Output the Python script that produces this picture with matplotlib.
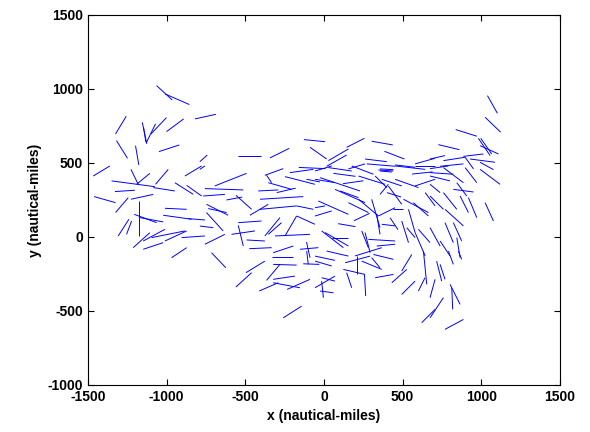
import matplotlib
matplotlib.use("Agg")
import matplotlib.pyplot as plt
from matplotlib.collections import LineCollection

plt.rcParams['font.family'] = ['Liberation Sans', 'DejaVu Sans']
plt.rcParams['axes.unicode_minus'] = False

# Track segments (x0, y0, x1, y1) in nautical miles
west_tracks = [
    (-1064, 1023, -965, 926), (-1011, 967, -856, 895), (-1325, 696, -1257, 816),
    (-1155, 775, -1126, 629), (-1147, 741, -1132, 640), (-1128, 640, -1071, 764),
    (-1100, 696, -1001, 807), (-1001, 712, -892, 798), (-820, 798, -687, 829),
    (-1319, 651, -1249, 532), (-1198, 617, -1177, 487), (-1049, 577, -920, 622),
    (-1467, 412, -1361, 480), (-1227, 457, -1181, 356), (-1191, 356, -1107, 430),
    (-1350, 379, -1075, 340), (-1085, 334, -948, 311), (-1329, 307, -1202, 316),
    (-1071, 356, -990, 457), (-884, 412, -778, 480), (-948, 367, -831, 288),
    (-873, 349, -778, 277), (-1461, 273, -1325, 232), (-1325, 165, -1244, 266),
    (-1227, 255, -1085, 288), (-1177, 243, -1177, 7), (-1206, 153, -1064, 97),
    (-1170, 131, -1022, 102), (-1011, 194, -873, 187), (-1022, 147, -842, 120),
    (-863, 124, -757, 115), (-1308, 7, -1240, 120), (-1255, 18, -1223, 108),
    (-1213, -72, -1107, 29), (-1149, -27, -1011, 52), (-1096, -4, -884, 41),
    (-1011, -27, -873, 41), (-1149, -83, -1022, -38), (-905, -4, -757, 7),
    (-969, -140, -873, -72),
]

midwest_tracks = [
    (-789, 509, -742, 554), (-545, 550, -401, 550), (-344, 534, -221, 599),
    (-128, 658, 7, 644), (-89, 606, 17, 527),
    (-694, 345, -492, 430), (-757, 327, -513, 318), (-376, 417, -259, 462),
    (-365, 417, -333, 367), (-354, 367, -206, 322), (-418, 311, -291, 318),
    (-248, 408, -58, 356), (-217, 435, -68, 457), (-768, 277, -630, 288),
    (-747, 221, -609, 147), (-736, 192, -619, 165), (-407, 255, -132, 273),
    (-560, 282, -460, 187), (-471, 147, -354, 221), (-407, 187, -174, 210),
    (-174, 210, -68, 187), (-545, 97, -397, 108), (-747, 165, -641, 41),
    (-789, 74, -704, 63), (-545, 79, -513, -61), (-588, 18, -439, 41),
    (-757, -49, -630, 18), (-492, -20, -376, -27), (-475, -79, -333, -72),
    (-376, 7, -280, 131), (-354, 18, -270, 97), (-312, 7, -89, 18),
    (-248, 7, -174, 142), (-174, 142, -58, 86), (-323, -106, -195, -61),
    (-111, -34, -89, -140), (-153, -83, -36, -72), (-111, 390, -26, 372),
    (-789, 457, -757, 480), (-160, 470, 10, 462), (-300, 300, -180, 330),
    (-620, 250, -520, 270),
]

southwest_tracks = [
    (-715, -106, -624, -208), (-496, -241, -376, -163), (-560, -338, -460, -241),
    (-365, -293, -280, -185), (-333, -136, -195, -136), (-323, -185, -174, -190),
    (-323, -286, -185, -264), (-412, -365, -291, -309), (-323, -309, -153, -343),
    (-234, -354, -89, -286), (-259, -546, -142, -467), (-110, -95, -100, -185),
    (-132, -181, -30, -185),
]

central_tracks = [
    (144, 606, 257, 667), (303, 647, 437, 622), (384, 579, 511, 527),
    (28, 516, 155, 595), (17, 478, 144, 554), (261, 527, 399, 509),
    (272, 494, 452, 478), (452, 487, 579, 471), (579, 494, 706, 532),
    (155, 460, 261, 494), (356, 460, 441, 455),
    (-57, 446, 49, 480), (28, 469, 176, 446), (176, 480, 314, 424),
    (356, 446, 431, 439), (346, 453, 441, 446), (452, 480, 643, 457),
    (579, 480, 706, 480), (-57, 390, 70, 367), (-25, 401, 229, 311),
    (219, 412, 388, 356), (325, 412, 399, 334), (367, 390, 494, 345),
    (452, 390, 600, 334), (70, 322, 261, 232), (102, 311, 219, 266),
    (-36, 243, 155, 153), (-57, 198, 7, 210), (219, 255, 346, 142),
    (155, 232, 282, 165), (356, 288, 409, 356), (303, 255, 356, 63),
    (335, 153, 356, 18), (346, 142, 452, 198), (367, 86, 452, 75),
    (409, 345, 494, 221), (441, 187, 505, 187), (505, 255, 664, 165),
    (537, 187, 579, 30), (568, 232, 664, 142), (579, 345, 706, 390),
    (643, 300, 706, 210), (-15, 41, 123, -72), (7, 30, 155, -61),
    (49, -4, 155, -4), (240, 41, 282, -72), (261, 30, 293, -106),
    (282, -16, 452, -27), (335, -61, 452, -49), (494, 108, 537, -38),
    (526, 63, 579, -4), (579, 30, 643, -128), (600, 52, 674, -38),
    (197, -128, 367, -72), (-57, 142, 49, 176), (60, 430, 200, 410),
    (120, 360, 250, 380), (400, 300, 490, 270), (190, 110, 290, 160),
    (420, 130, 470, 50), (90, 90, 200, 70), (560, 425, 690, 440),
]

south_tracks = [
    (-57, -129, 70, -158), (-57, -163, 49, -196), (17, -95, 155, -129),
    (134, -174, 293, -129), (208, -129, 208, -253), (240, -163, 367, -219),
    (314, -118, 441, -151), (303, -140, 356, -208), (123, -219, 261, -253),
    (144, -241, 176, -343), (257, -253, 265, -399), (-15, -275, 70, -298),
    (-57, -343, 70, -264), (-15, -298, -4, -410), (-25, -365, 60, -377),
    (325, -275, 441, -253), (431, -309, 526, -219), (494, -230, 558, -118),
    (494, -388, 579, -298), (600, -365, 642, -275), (632, -95, 653, -320),
    (621, -579, 706, -489),
]

east_tracks = [
    (1039, 955, 1102, 836), (1024, 809, 1123, 708), (837, 726, 971, 681),
    (981, 667, 1056, 550), (996, 667, 1066, 561), (992, 617, 1109, 561),
    (727, 624, 861, 590), (674, 527, 769, 550), (759, 516, 897, 539),
    (886, 545, 1013, 561), (897, 539, 950, 460), (928, 527, 1087, 505),
    (738, 478, 886, 494), (992, 505, 1077, 455),
    (674, 462, 791, 480), (674, 435, 822, 424), (759, 469, 886, 367),
    (897, 469, 971, 367), (992, 457, 1119, 356), (674, 412, 801, 379),
    (674, 356, 738, 300), (822, 322, 950, 304), (844, 367, 907, 277),
    (674, 277, 759, 187), (759, 300, 844, 187), (865, 277, 918, 165),
    (918, 266, 971, 131), (1024, 232, 1077, 108), (769, 187, 886, 75),
    (674, 63, 738, -61), (769, 97, 822, -38), (822, 97, 875, -27),
    (738, -27, 801, -128), (844, -4, 865, -140),
    (716, -163, 748, -298), (738, -185, 769, -286), (791, -95, 822, -185),
    (854, -95, 875, -151), (801, -320, 865, -455), (812, -343, 818, -489),
    (674, -410, 706, -286), (674, -546, 759, -410), (769, -624, 886, -557),
]

all_tracks = (west_tracks + midwest_tracks + southwest_tracks +
              central_tracks + south_tracks + east_tracks)
segments = [[(x0, y0), (x1, y1)] for x0, y0, x1, y1 in all_tracks]

fig = plt.figure(figsize=(5.9, 4.32), dpi=100)
ax = fig.add_axes([88 / 590, 47 / 432, 472 / 590, 370 / 432])

lc = LineCollection(segments, colors='#0000ff', linewidths=0.7)
ax.add_collection(lc)

ax.set_xlim(-1500, 1500)
ax.set_ylim(-1000, 1500)
ax.set_xticks(range(-1500, 1501, 500))
ax.set_yticks(range(-1000, 1501, 500))
ax.tick_params(direction='in', length=4, width=0.8, top=True, right=True,
               labelsize=10)
for lbl in ax.get_xticklabels() + ax.get_yticklabels():
    lbl.set_fontweight('bold')
for sp in ax.spines.values():
    sp.set_linewidth(0.8)

ax.set_xlabel('x (nautical-miles)', fontsize=10, fontweight='bold')
ax.set_ylabel('y (nautical-miles)', fontsize=10, fontweight='bold')

fig.savefig('out.png', dpi=100, facecolor='white')
